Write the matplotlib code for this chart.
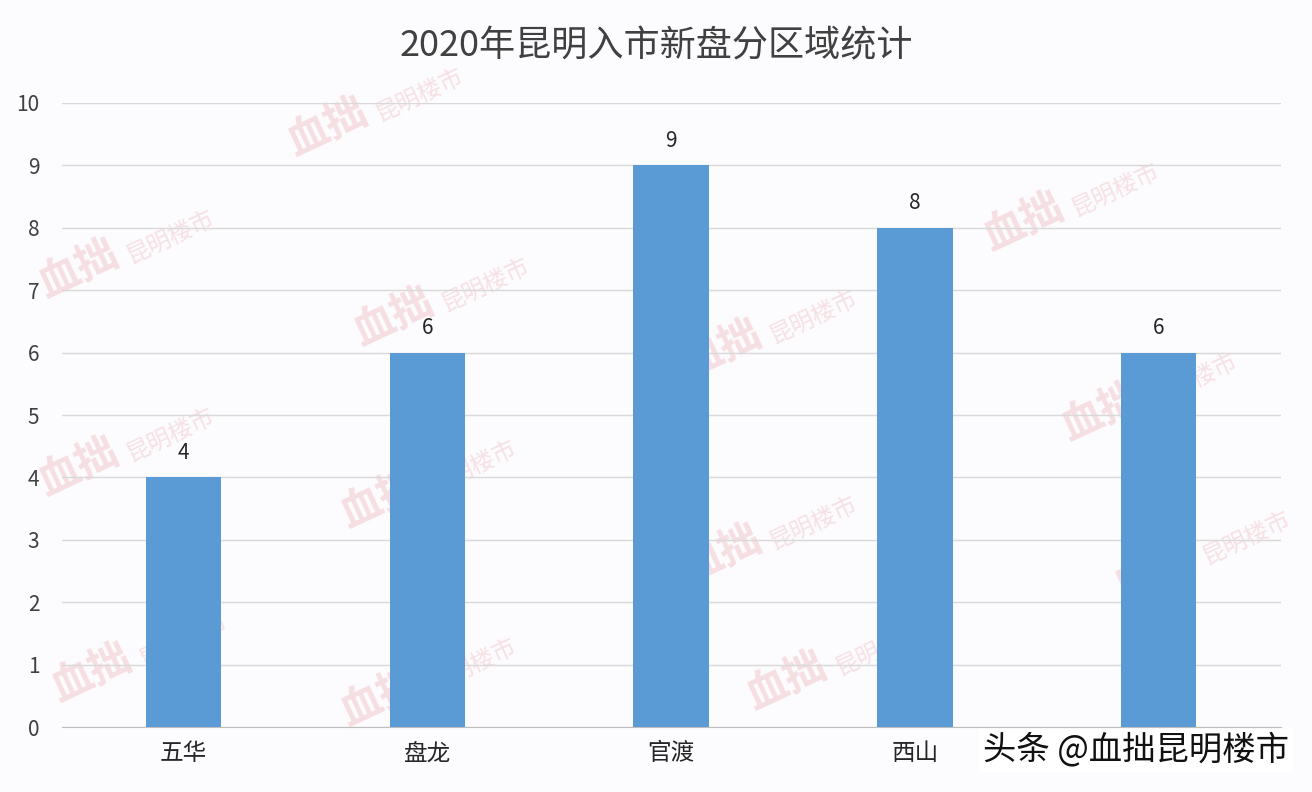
import matplotlib.pyplot as plt

plt.rcParams['font.family'] = ['Noto Sans CJK SC', 'DejaVu Sans']

# 数据
districts = ['五华', '盘龙', '官渡', '西山', '呈贡']
counts = [4, 6, 9, 8, 6]
yticks = list(range(0, 11))

fig = plt.figure(figsize=(13.12, 7.92), dpi=100)
fig.patch.set_facecolor('#fcfbfd')
ax = fig.add_axes([0.047, 0.082, 0.929, 0.788])
ax.set_facecolor('none')

# 水印（装饰）
wm_pos = [(0.06, 0.66), (0.30, 0.60), (0.55, 0.56), (0.78, 0.72), (0.25, 0.84),
          (0.06, 0.41), (0.29, 0.37), (0.55, 0.30), (0.84, 0.48), (0.07, 0.15),
          (0.29, 0.12), (0.60, 0.14), (0.88, 0.28)]
for px, py in wm_pos:
    fig.text(px, py, '血拙', fontsize=30, color='#f6dfe2', rotation=25,
             ha='center', va='center', fontweight='bold', zorder=-1)
    fig.text(px + 0.07, py + 0.04, '昆明楼市', fontsize=17, color='#f6e1e4',
             rotation=25, ha='center', va='center', zorder=-1)

x = range(len(districts))
bars = ax.bar(x, counts, width=0.31, color='#5b9bd5', zorder=3)
for xi, v in zip(x, counts):
    ax.text(xi, v + 0.22, str(v), ha='center', va='bottom', fontsize=15,
            color='#262626', zorder=4)

ax.set_xlim(-0.5, len(districts) - 0.5)
ax.set_ylim(0, 10)
ax.set_yticks(yticks)
ax.set_yticklabels([str(t) for t in yticks])
ax.set_xticks(list(x))
ax.set_xticklabels(districts)
# 最后一个类别标签在原图中被"头条"水印遮住
ax.get_xticklabels()[-1].set_visible(False)
ax.grid(axis='y', color='#d9d9d9', linewidth=1, zorder=0)
for s in ['top', 'right', 'left']:
    ax.spines[s].set_visible(False)
ax.spines['bottom'].set_color('#bfbfbf')
ax.tick_params(axis='y', length=0, labelsize=15, colors='#404040', pad=16)
ax.tick_params(axis='x', length=0, labelsize=17, colors='#262626', pad=11)

fig.text(0.5, 0.942, '2020年昆明入市新盘分区域统计', ha='center', va='center',
         fontsize=26, color='#404040')

# 头条水印
fig.text(0.749, 0.053, '头条 @血拙昆明楼市', ha='left', va='center', fontsize=24,
         color='#111111', zorder=10,
         bbox=dict(facecolor='white', edgecolor='none', pad=3))

fig.savefig('out.png', dpi=100, facecolor=fig.get_facecolor())
